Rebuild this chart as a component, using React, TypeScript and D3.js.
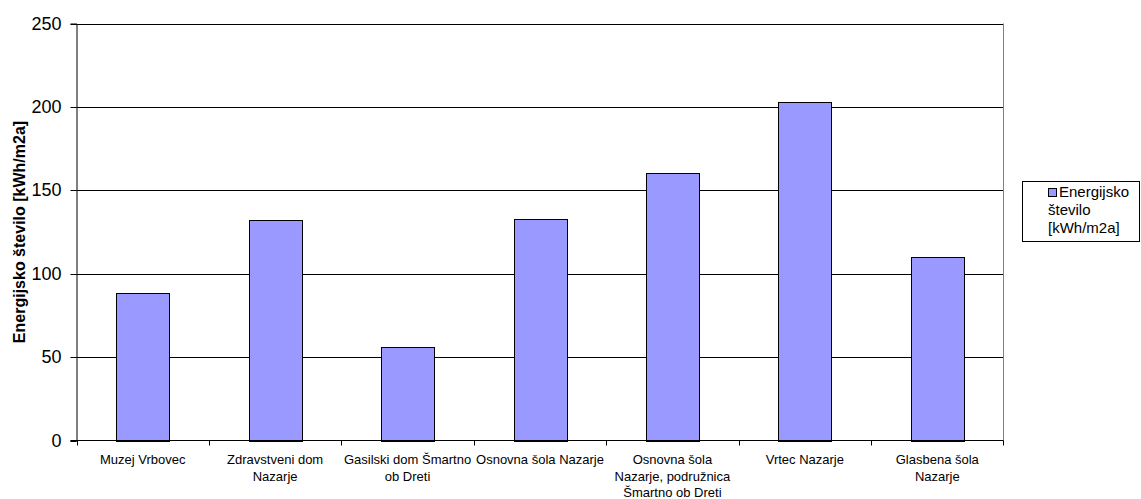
import React, { useEffect, useRef } from 'react';
import * as d3 from 'd3';

// Chart data
const categories = [
  "Muzej Vrbovec",
  "Zdravstveni dom Nazarje",
  "Gasilski dom Šmartno ob Dreti",
  "Osnovna šola Nazarje",
  "Osnovna šola Nazarje, podružnica Šmartno ob Dreti",
  "Vrtec Nazarje",
  "Glasbena šola Nazarje"
];

// Line breaks used for the category labels
const categoryLines = [
  ["Muzej Vrbovec"],
  ["Zdravstveni dom", "Nazarje"],
  ["Gasilski dom Šmartno", "ob Dreti"],
  ["Osnovna šola Nazarje"],
  ["Osnovna šola", "Nazarje, podružnica", "Šmartno ob Dreti"],
  ["Vrtec Nazarje"],
  ["Glasbena šola", "Nazarje"]
];

const values = [88.3, 132.0, 55.9, 132.8, 160.3, 202.7, 110.2];

const yTicks = [0, 50, 100, 150, 200, 250];

const seriesName = ["Energijsko", "število", "[kWh/m2a]"];
const yTitle = "Energijsko število [kWh/m2a]";

const FONT = "'Liberation Sans', Arial, sans-serif";

export default function App() {
  const svgRef = useRef<SVGSVGElement>(null);

  useEffect(() => {
    if (!svgRef.current) return;

    const svg = d3.select(svgRef.current);
    svg.selectAll("*").remove();

    const margin = { top: 23.5, left: 76.5, right: 1003.5, bottom: 440.5 };

    const x = d3.scaleBand<string>()
      .domain(categories)
      .range([margin.left, margin.right])
      .padding(0);

    const y = d3.scaleLinear()
      .domain([0, 250])
      .range([margin.bottom, margin.top]);

    // Gridlines
    svg.append("g")
      .selectAll("line")
      .data(yTicks.filter(d => d > 0))
      .enter()
      .append("line")
      .attr("x1", margin.left)
      .attr("x2", margin.right)
      .attr("y1", d => Math.round(y(d)) + 0.5)
      .attr("y2", d => Math.round(y(d)) + 0.5)
      .attr("stroke", "#000")
      .attr("stroke-width", 1);

    // Right border of plot area
    svg.append("line")
      .attr("x1", margin.right)
      .attr("x2", margin.right)
      .attr("y1", margin.top)
      .attr("y2", margin.bottom)
      .attr("stroke", "#808080");

    // Bars
    const barW = x.bandwidth() * 0.4;
    svg.append("g")
      .selectAll("rect")
      .data(values)
      .enter()
      .append("rect")
      .attr("x", (d, i) => Math.round((x(categories[i]) || 0) + (x.bandwidth() - barW) / 2) + 0.5)
      .attr("y", d => Math.round(y(d)) + 0.5)
      .attr("width", Math.round(barW))
      .attr("height", d => Math.round(margin.bottom) - Math.round(y(d)))
      .attr("fill", "#9999FF")
      .attr("stroke", "#000")
      .attr("stroke-width", 1);

    // Y axis
    const yAxis = svg.append("g")
      .attr("transform", `translate(${margin.left},0)`)
      .call(d3.axisLeft(y).tickValues(yTicks).tickSize(6).tickPadding(9).tickFormat(d3.format("d")));
    yAxis.select(".domain").attr("stroke", "#000");
    yAxis.selectAll(".tick line").attr("stroke", "#000");
    yAxis.selectAll(".tick").attr("transform", d => `translate(0,${Math.round(y(d as number)) + 0.5})`);
    yAxis.selectAll("text")
      .attr("fill", "#000")
      .style("font-family", FONT)
      .style("font-size", "18px");

    // X axis
    const xAxisG = svg.append("g")
      .attr("transform", `translate(0,${margin.bottom})`);
    xAxisG.append("line")
      .attr("x1", margin.left - 6)
      .attr("x2", margin.right)
      .attr("stroke", "#000");
    xAxisG.selectAll(".xtick")
      .data(d3.range(categories.length + 1))
      .enter()
      .append("line")
      .attr("class", "xtick")
      .attr("x1", i => Math.round(margin.left + i * x.step()) + 0.5)
      .attr("x2", i => Math.round(margin.left + i * x.step()) + 0.5)
      .attr("y1", 0)
      .attr("y2", 5)
      .attr("stroke", "#000");

    // Category labels
    categoryLines.forEach((lines, i) => {
      const cx = (x(categories[i]) || 0) + x.bandwidth() / 2;
      const t = svg.append("text")
        .attr("x", cx)
        .attr("y", 464)
        .attr("text-anchor", "middle")
        .attr("fill", "#000")
        .style("font-family", FONT)
        .style("font-size", "13px");
      lines.forEach((line, j) => {
        t.append("tspan")
          .attr("x", cx)
          .attr("dy", j === 0 ? 0 : 16.5)
          .text(line);
      });
    });

    // Y axis title
    svg.append("text")
      .attr("transform", `translate(25,${(margin.top + margin.bottom) / 2}) rotate(-90)`)
      .attr("text-anchor", "middle")
      .attr("fill", "#000")
      .style("font-family", FONT)
      .style("font-size", "16px")
      .style("font-weight", "bold")
      .text(yTitle);

    // Legend
    const legend = svg.append("g");
    legend.append("rect")
      .attr("x", 1022.5)
      .attr("y", 181.5)
      .attr("width", 117)
      .attr("height", 60)
      .attr("fill", "#fff")
      .attr("stroke", "#000");
    legend.append("rect")
      .attr("x", 1048.5)
      .attr("y", 188.5)
      .attr("width", 8)
      .attr("height", 8)
      .attr("fill", "#9999FF")
      .attr("stroke", "#000");
    seriesName.forEach((line, i) => {
      legend.append("text")
        .attr("x", i === 0 ? 1059 : 1048)
        .attr("y", 197 + i * 18)
        .attr("fill", "#000")
        .style("font-family", FONT)
        .style("font-size", "15px")
        .text(line);
    });
  }, []);

  return (
    <div style={{ position: "fixed", left: 0, top: 0 }}>
      <svg ref={svgRef} width={1141} height={499} style={{ display: "block", background: "#fff" }}></svg>
    </div>
  );
}
